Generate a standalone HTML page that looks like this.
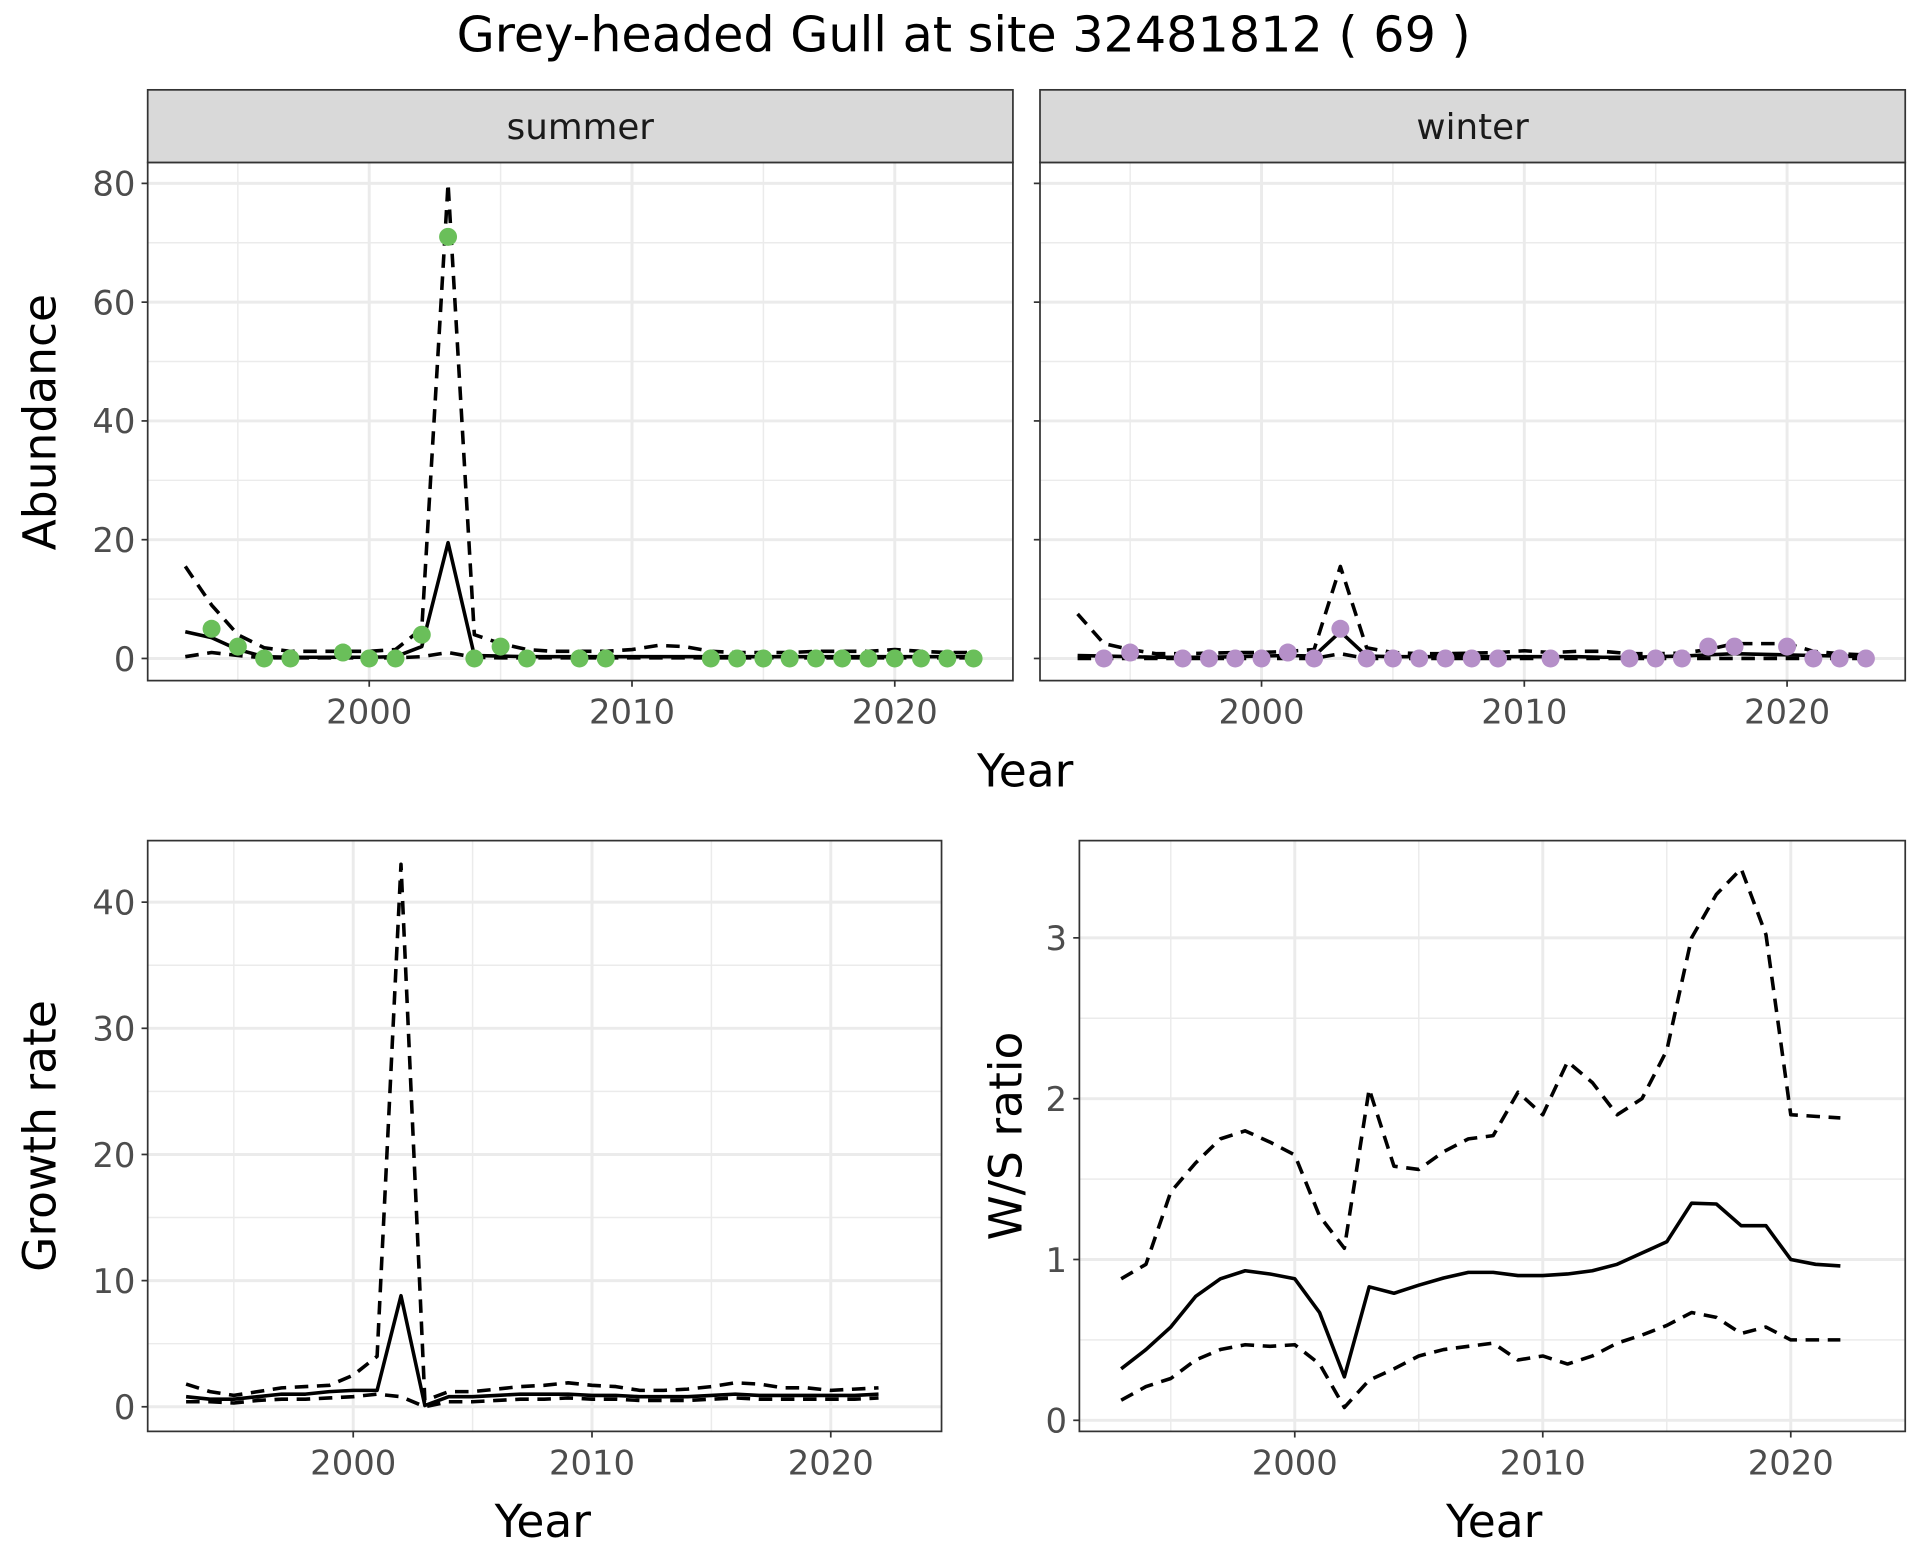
<!DOCTYPE html>
<html><head><meta charset="utf-8"><style>
html,body{margin:0;padding:0;background:#fff}
svg{display:block}
text{font-family:"DejaVu Sans","Liberation Sans",sans-serif}
</style></head><body>
<svg id="chart" width="1920" height="1560" viewBox="0 0 1560 1267.5" xmlns="http://www.w3.org/2000/svg">
<rect width="1560" height="1267.5" fill="#fff"/>
<text x="783" y="42" font-size="40" text-anchor="middle" fill="#000">Grey-headed Gull at site 32481812 ( 69 )</text>
</svg>
<script>
// ---- data ----
const summerPtYears=[1994,1995,1996,1997,1999,2000,2001,2002,2003,2004,2005,2006,2008,2009,2013,2014,2015,2016,2017,2018,2019,2020,2021,2022,2023];
const summerPtVals=[5,2,0,0,1,0,0,4,71,0,2,0,0,0,0,0,0,0,0,0,0,0,0,0,0];
const abundYears=[1993,1994,1995,1996,1997,1998,1999,2000,2001,2002,2003,2004,2005,2006,2007,2008,2009,2010,2011,2012,2013,2014,2015,2016,2017,2018,2019,2020,2021,2022,2023];
const summerMean=[4.5,3.5,1.5,0.3,0.2,0.2,0.2,0.2,0.3,2,19.5,0.5,0.4,0.3,0.3,0.3,0.3,0.3,0.3,0.3,0.3,0.3,0.3,0.3,0.3,0.3,0.3,0.3,0.3,0.3,0.3];
const summerUpper=[15.5,9,4,1.8,1.2,1.2,1.2,1.2,1.5,5,80,4,2.5,1.5,1.2,1.2,1.2,1.5,2.2,2,1.2,1,1,1,1.2,1.2,1.2,1.5,1.2,1,1];
const summerLower=[0.3,1,0.5,0.1,0.1,0.1,0.1,0.1,0.1,0.3,1,0.2,0.1,0.1,0.1,0.1,0.1,0.1,0.1,0.1,0.1,0.1,0.1,0.1,0.1,0.1,0.1,0.1,0.1,0.1,0.1];
const winterPtYears=[1994,1995,1997,1998,1999,2000,2001,2002,2003,2004,2005,2006,2007,2008,2009,2011,2014,2015,2016,2017,2018,2020,2021,2022,2023];
const winterPtVals=[0,1,0,0,0,0,1,0,5,0,0,0,0,0,0,0,0,0,0,2,2,2,0,0,0];
const winterMean=[0.5,0.4,0.3,0.2,0.2,0.2,0.3,0.4,0.5,0.4,4.5,0.4,0.3,0.3,0.3,0.3,0.3,0.3,0.3,0.3,0.2,0.2,0.3,0.4,0.6,0.8,0.7,0.6,0.5,0.4,0.3];
const winterUpper=[7.5,2.5,1.5,0.8,0.8,0.9,1,1,1.2,1.5,15.5,1.8,1,0.8,0.8,0.9,1,1.3,1,1.2,1.2,0.8,0.8,0.9,1.5,2.5,2.5,2.5,1.2,0.8,0.6];
const winterLower=[0,0,0,0,0,0,0,0,0,0,0.8,0,0,0,0,0,0,0,0,0,0,0,0,0,0,0,0,0,0,0,0];
const rateYears=[1993,1994,1995,1996,1997,1998,1999,2000,2001,2002,2003,2004,2005,2006,2007,2008,2009,2010,2011,2012,2013,2014,2015,2016,2017,2018,2019,2020,2021,2022];
const growthMean=[0.8,0.6,0.6,0.8,1,1,1.2,1.3,1.3,8.8,0.1,0.8,0.8,0.9,1,1,1,0.9,0.9,0.8,0.8,0.8,0.9,1,0.9,0.9,0.9,0.9,0.9,1.0];
const growthUpper=[1.8,1.2,0.9,1.2,1.5,1.6,1.7,2.5,4,43,0.5,1.2,1.2,1.4,1.6,1.7,1.9,1.7,1.6,1.3,1.3,1.4,1.6,1.9,1.8,1.5,1.5,1.3,1.4,1.5];
const growthLower=[0.4,0.4,0.3,0.5,0.6,0.6,0.7,0.8,1,0.8,0,0.4,0.4,0.5,0.6,0.6,0.7,0.6,0.6,0.5,0.5,0.5,0.6,0.7,0.6,0.6,0.6,0.6,0.6,0.7];
const ratioMean=[0.32,0.44,0.58,0.77,0.88,0.93,0.91,0.88,0.67,0.27,0.83,0.79,0.84,0.885,0.92,0.92,0.90,0.90,0.91,0.93,0.97,1.04,1.11,1.35,1.345,1.21,1.21,1.0,0.97,0.96];
const ratioUpper=[0.88,0.97,1.42,1.6,1.75,1.8,1.73,1.65,1.27,1.07,2.06,1.58,1.56,1.67,1.75,1.77,2.04,1.9,2.23,2.1,1.9,2.0,2.3,3.0,3.27,3.43,3.02,1.9,1.89,1.88];
const ratioLower=[0.125,0.21,0.26,0.375,0.44,0.47,0.46,0.47,0.35,0.08,0.25,0.32,0.4,0.44,0.46,0.48,0.375,0.4,0.35,0.4,0.48,0.53,0.59,0.67,0.64,0.54,0.58,0.5,0.5,0.5];
const xTicks=[2000,2010,2020];
const xMinor=[1995,2005,2015];
const abundTicks=[0,20,40,60,80];
const abundMinor=[10,30,50,70];
const growthTicks=[0,10,20,30,40];
const growthMinor=[5,15,25,35];
const ratioTicks=[0,1,2,3];
const ratioMinor=[0.5,1.5,2.5];

const svg=document.getElementById('chart');
const NS='http://www.w3.org/2000/svg';
function mk(tag,attrs,parent){const e=document.createElementNS(NS,tag);for(const k in attrs)e.setAttribute(k,attrs[k]);(parent||svg).appendChild(e);return e;}
function scale(d0,d1,r0,r1){return v=>r0+(v-d0)*(r1-r0)/(d1-d0);}

function panel(o){
  const g=mk('g',{});
  
  
  const X=scale(o.xd[0],o.xd[1],o.xr[0],o.xr[1]);
  const Y=scale(o.yd[0],o.yd[1],o.yr[0],o.yr[1]);
  mk('rect',{x:o.L,y:o.T,width:o.R-o.L,height:o.B-o.T,fill:'#fff'},g);
  o.yMinor.forEach(v=>mk('line',{x1:o.L,x2:o.R,y1:Y(v),y2:Y(v),stroke:'#ebebeb','stroke-width':1.2},g));
  xMinor.forEach(v=>mk('line',{x1:X(v),x2:X(v),y1:o.T,y2:o.B,stroke:'#ebebeb','stroke-width':1.2},g));
  o.yTicks.forEach(v=>mk('line',{x1:o.L,x2:o.R,y1:Y(v),y2:Y(v),stroke:'#ebebeb','stroke-width':2.4},g));
  xTicks.forEach(v=>mk('line',{x1:X(v),x2:X(v),y1:o.T,y2:o.B,stroke:'#ebebeb','stroke-width':2.4},g));
  o.series.forEach(s=>{
    const p=mk('polyline',{points:s.x.map((yr,i)=>X(yr)+','+Y(s.y[i])).join(' '),fill:'none',stroke:'#000','stroke-width':2.9,'stroke-linejoin':'round','stroke-dasharray':s.dash?'11 7':'none'},g);
    
    
  });
  if(o.pts){o.pts.x.forEach((yr,i)=>{
    const c=mk('circle',{cx:X(yr),cy:Y(o.pts.y[i]),r:7.3,fill:o.pts.color},g);
    
    
  });}
  mk('rect',{x:o.L,y:o.T,width:o.R-o.L,height:o.B-o.T,fill:'none',stroke:'#333','stroke-width':1.4},g);
  o.yTicks.forEach(v=>mk('line',{x1:o.L-5,x2:o.L,y1:Y(v),y2:Y(v),stroke:'#333','stroke-width':1.4},g));
  if(o.yLabels){o.yTicks.forEach(v=>{
    const t=mk('text',{x:o.L-10,y:Y(v)+10,'font-size':27.5,'text-anchor':'end',fill:'#4d4d4d'},g);
    t.textContent=v;
    
    
  });}
  xTicks.forEach(v=>{
    mk('line',{x1:X(v),x2:X(v),y1:o.B,y2:o.B+5,stroke:'#333','stroke-width':1.4},g);
    const t=mk('text',{x:X(v),y:o.B+35,'font-size':27.5,'text-anchor':'middle',fill:'#4d4d4d'},g);
    t.textContent=v;
    
    
  });
  if(o.strip){
    const r=mk('rect',{x:o.L,y:o.T-59,width:o.R-o.L,height:59,fill:'#d9d9d9',stroke:'#333','stroke-width':1.4},g);
    
    
    const t=mk('text',{x:(o.L+o.R)/2,y:o.T-19,'font-size':29,'text-anchor':'middle',fill:'#1a1a1a'},g);
    t.textContent=o.strip;
    
    
  }
}
function label(txt,x,y,rot,name){
  const t=mk('text',{x:x,y:y,'font-size':37,'text-anchor':'middle',fill:'#000'});
  if(rot)t.setAttribute('transform','rotate(-90 '+x+' '+y+')');
  t.textContent=txt;
  
  
}

panel({name:'summer-panel',L:120,R:823,T:132,B:553,xd:[2000,2020],xr:[300,727],yd:[0,80],yr:[535,149],
  yTicks:abundTicks,yMinor:abundMinor,yLabels:true,strip:'summer',
  series:[{x:abundYears,y:summerUpper,dash:true,name:'summer-upper-line'},{x:abundYears,y:summerLower,dash:true,name:'summer-lower-line'},{x:abundYears,y:summerMean,name:'summer-mean-line'}],
  pts:{x:summerPtYears,y:summerPtVals,color:'#6abf5a',name:'summer-count-point'}});
panel({name:'winter-panel',L:845,R:1548,T:132,B:553,xd:[2000,2020],xr:[1025,1452],yd:[0,80],yr:[535,149],
  yTicks:abundTicks,yMinor:abundMinor,yLabels:false,strip:'winter',
  series:[{x:abundYears,y:winterUpper,dash:true,name:'winter-upper-line'},{x:abundYears,y:winterLower,dash:true,name:'winter-lower-line'},{x:abundYears,y:winterMean,name:'winter-mean-line'}],
  pts:{x:winterPtYears,y:winterPtVals,color:'#b58fc8',name:'winter-count-point'}});
panel({name:'growth-rate-panel',L:120,R:765,T:683,B:1163,xd:[2000,2020],xr:[287,675],yd:[0,40],yr:[1143,733],
  yTicks:growthTicks,yMinor:growthMinor,yLabels:true,
  series:[{x:rateYears,y:growthUpper,dash:true,name:'growth-upper-line'},{x:rateYears,y:growthLower,dash:true,name:'growth-lower-line'},{x:rateYears,y:growthMean,name:'growth-mean-line'}]});
panel({name:'ws-ratio-panel',L:877,R:1548,T:683,B:1163,xd:[2000,2020],xr:[1052,1455],yd:[0,3],yr:[1154,762],
  yTicks:ratioTicks,yMinor:ratioMinor,yLabels:true,
  series:[{x:rateYears,y:ratioUpper,dash:true,name:'ratio-upper-line'},{x:rateYears,y:ratioLower,dash:true,name:'ratio-lower-line'},{x:rateYears,y:ratioMean,name:'ratio-mean-line'}]});

label('Abundance',45,343,true,'y-axis-title-abundance');
label('Year',833,639,false,'x-axis-title-top');
label('Growth rate',45,923,true,'y-axis-title-growth');
label('Year',441,1249,false,'x-axis-title-growth');
label('W/S ratio',830,923,true,'y-axis-title-ratio');
label('Year',1214,1249,false,'x-axis-title-ratio');
</script>
</body></html>
